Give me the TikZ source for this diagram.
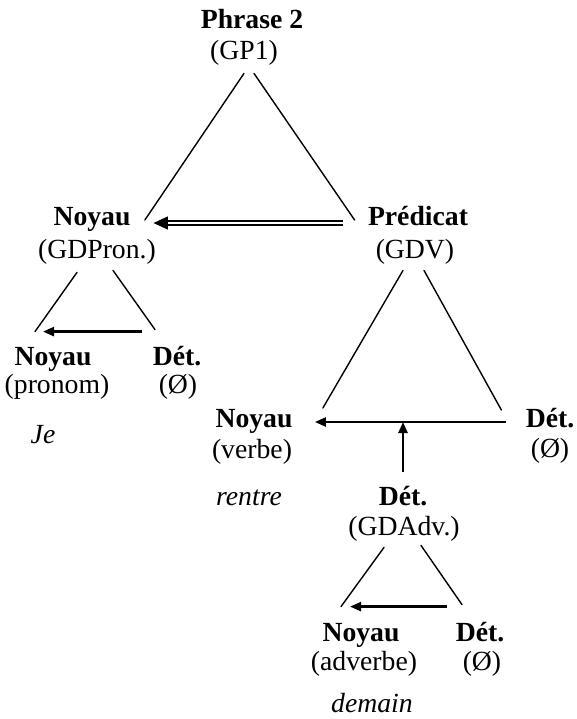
\documentclass[tikz,border=0pt]{standalone}
\usepackage{fontspec}
\setmainfont{Liberation Serif}
\usetikzlibrary{arrows.meta}

\begin{document}
\begin{tikzpicture}[x=0.5pt,y=-0.5pt,line cap=round,line join=round,
    font=\fontsize{13.85}{16}\selectfont,
    head/.style={font=\fontsize{13.85}{16}\selectfont\bfseries,anchor=base,
      inner sep=2pt,text height=10pt,text depth=3pt},
    sub/.style={anchor=base,inner sep=2pt,text height=10pt,text depth=3pt},
    word/.style={font=\fontsize{13.85}{16}\selectfont\itshape,anchor=base},
    branch/.style={line width=0.7pt},
    arr/.style={line width=1.2pt,line cap=butt,-{Triangle[length=5.5pt,width=4.5pt]}}]
  \useasboundingbox (0,0) rectangle (577,719);

  % Sentence and its two groups.
  \node[head] (phrase) at (252,28) {Phrase 2};
  \node[sub] (gp1) at (244,59) {(GP1)};
  \node[head] (noyauA) at (92,225) {Noyau};
  \node[sub] (gdpron) at (97,258) {(GDPron.)};
  \node[head] (predicat) at (418,225) {Prédicat};
  \node[sub] (gdv) at (415,258) {(GDV)};

  % Pronoun group.
  \node[head] (noyauB) at (53,365) {Noyau};
  \node[sub] (pronom) at (57,393) {(pronom)};
  \node[head] (detB) at (177,365) {Dét.};
  \node[sub] (videB) at (178,393) {(Ø)};
  \node[word] (je) at (43,443) {Je};

  % Verb group.
  \node[head] (noyauC) at (254,427) {Noyau};
  \node[sub] (verbe) at (252,458) {(verbe)};
  \node[head] (detC) at (550,427) {Dét.};
  \node[sub] (videC) at (550,457) {(Ø)};
  \node[word] (rentre) at (249,505) {rentre};

  % Adverb group.
  \node[head] (detD) at (403,505) {Dét.};
  \node[sub] (gdadv) at (404,535) {(GDAdv.)};
  \node[head] (noyauE) at (361,641) {Noyau};
  \node[sub] (adverbe) at (364,670) {(adverbe)};
  \node[head] (detE) at (480,641) {Dét.};
  \node[sub] (videE) at (482,670) {(Ø)};
  \node[word] (demain) at (372,712) {demain};

  % Top triangle with the double arrow.
  \draw[branch] ([yshift=-2pt]gp1.south) -- ([xshift=5pt,yshift=-1pt]noyauA.east);
  \draw[branch] ([xshift=5pt,yshift=-2pt]gp1.south) -- ([xshift=-4.5pt,yshift=-1pt]predicat.west);
  \draw[line width=2.8pt,line cap=butt,-{Triangle[length=7.5pt,width=6pt]}]
    ([xshift=-10.5pt,yshift=-2.5pt]predicat.west) -- ([xshift=9pt,yshift=-2.5pt]noyauA.east);
  \draw[line width=1.1pt,line cap=butt,double,double distance=0.6pt,shorten >=7.5pt]
    ([xshift=-10.5pt,yshift=-2.5pt]predicat.west) -- ([xshift=9pt,yshift=-2.5pt]noyauA.east);

  \draw[branch] ([xshift=-10pt,yshift=-2pt]gdpron.south) -- ([xshift=-9pt,yshift=4.5pt]noyauB.north);
  \draw[branch] ([xshift=8pt,yshift=-1pt]gdpron.south) -- ([xshift=-11pt,yshift=5.5pt]detB.north);
  \draw[arr] ([xshift=-17.5pt,yshift=4.5pt]detB.north) -- ([xshift=-5pt,yshift=4.5pt]noyauB.north);

  \draw[branch] ([xshift=-6pt,yshift=-1pt]gdv.south) -- ([xshift=13pt,yshift=6pt]noyauC.east);
  \draw[branch] ([xshift=4.5pt,yshift=-1pt]gdv.south) -- ([xshift=-10pt,yshift=5pt]detC.west);
  \coordinate (hline) at ([xshift=9pt,yshift=-1pt]noyauC.east);
  \draw[arr] ([xshift=-7.5pt,yshift=-1pt]detC.west) -- (hline);
  \draw[arr] ([yshift=4.5pt]detD.north) -- (detD.north |- hline);

  \draw[branch] ([xshift=-10pt,yshift=-1pt]gdadv.south) -- ([xshift=-10pt,yshift=5pt]noyauE.north);
  \draw[branch] ([xshift=8.5pt]gdadv.south) -- ([xshift=-9pt,yshift=6pt]detE.north);
  \draw[arr] ([xshift=-16.5pt,yshift=5pt]detE.north) -- ([xshift=-5.5pt,yshift=5pt]noyauE.north);
\end{tikzpicture}
\end{document}
